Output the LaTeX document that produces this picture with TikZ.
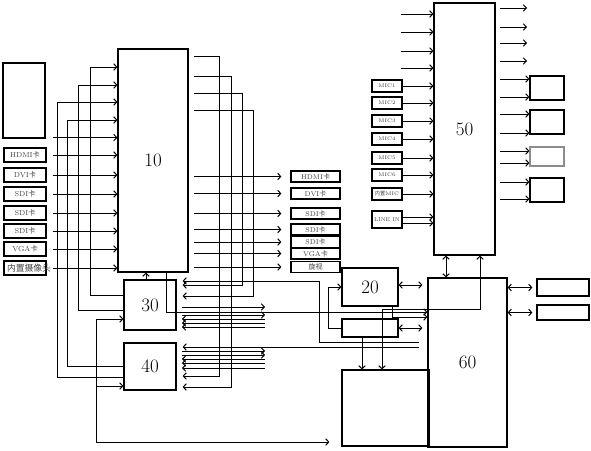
\documentclass[tikz,border=0pt]{standalone}
\usepackage{fontspec}
\newfontfamily\cjk{Noto Sans CJK SC}
\usepackage{tikz}
\usetikzlibrary{arrows.meta}

\begin{document}
\begin{tikzpicture}[x=1pt,y=-1pt,line width=1pt,
    >={Straight Barb[length=3pt,width=6.5pt]},
    blk/.style={draw,line width=1.2pt,inner sep=0pt},
    num/.style={font=\fontsize{19}{19}\selectfont},
    card/.style={blk,minimum width=42pt,minimum height=14pt,
        font=\fontsize{7.2}{7.2}\selectfont,text=black!75},
    ocard/.style={blk,minimum width=49pt,minimum height=11pt,
        font=\fontsize{7}{7}\selectfont,text=black!75},
    mic/.style={blk,minimum width=30pt,minimum height=12pt,
        font=\fontsize{5.2}{5.2}\selectfont,text=black!75},
    spk/.style={blk,minimum width=34pt,minimum height=24pt}]
    \useasboundingbox (0,0) rectangle (591,450);

    % main blocks
    \node[blk,num,minimum width=70pt,minimum height=223pt] (n10) at (153,160.5) {10};
    \node[blk,num,minimum width=52pt,minimum height=50pt] (n30) at (150,305) {30};
    \node[blk,num,minimum width=52pt,minimum height=47pt] (n40) at (150,366.5) {40};
    \node[blk,num,minimum width=56pt,minimum height=38pt] (n20) at (370,287) {20};
    \node[blk,minimum width=56pt,minimum height=18pt] (nS) at (370,328) {};
    \node[blk,minimum width=87pt,minimum height=76pt] (nB) at (385.5,408) {};
    \node[blk,num,minimum width=79pt,minimum height=169pt] (n60) at (467.5,362.5) {60};
    \node[blk,num,minimum width=61pt,minimum height=252pt] (n50) at (464.5,129) {50};

    % sources left of 10
    \node[blk,minimum width=42pt,minimum height=75pt] (cam) at (24,100.5) {};
    \node[card] (hdmiA) at (25,155) {HDMI{\cjk 卡}};
    \node[card] (dviA) at (25,175) {DVI{\cjk 卡}};
    \node[card] (sdiA) at (25,194) {SDI{\cjk 卡}};
    \node[card] (sdiB) at (25,213) {SDI{\cjk 卡}};
    \node[card] (sdiC) at (25,231) {SDI{\cjk 卡}};
    \node[card] (vgaA) at (25,249) {VGA{\cjk 卡}};
    \node[card,font=\fontsize{8.8}{8.8}\selectfont] (camA) at (25,268)
        {\makebox[36pt][l]{\cjk 内置摄像头}};

    \coordinate (camout) at ([xshift=7pt,yshift=1pt]cam.south east);
    \draw[->] (camout) -- (n10.west |- camout);
    \draw[->] ([xshift=6pt]hdmiA.east) -- (n10.west |- hdmiA);
    \draw[->] ([xshift=6pt]dviA.east) -- (n10.west |- dviA);
    \draw[->] ([xshift=6pt]sdiA.east) -- (n10.west |- sdiA);
    \draw[->] ([xshift=6pt]sdiB.east) -- (n10.west |- sdiB);
    \draw[->] ([xshift=6pt]sdiC.east) -- (n10.west |- sdiC);
    \draw[->] ([xshift=6pt]vgaA.east) -- (n10.west |- vgaA);
    \draw[->] ([xshift=6pt]camA.east) -- (n10.west |- camA);

    % loops back from 30 and 40 into 10
    \draw[->] (n30.west |- 0,295) -- (90,295) -- (90,67) -- (n10.west |- 0,67);
    \draw[->] (n30.west |- 0,310) -- (78,310) -- (78,85) -- (n10.west |- 0,85);
    \draw[->] (n40.west |- 0,366) -- (67,366) -- (67,120) -- (n10.west |- 0,120);
    \draw[->] (n40.west |- 0,377) -- (57,377) -- (57,102) -- (n10.west |- 0,102);
    \coordinate (bigin) at ([xshift=-12pt]nB.west |- 0,442);
    \draw[<->] (n30.west |- 0,319) -- (96,319) -- (96,442) -- (bigin);
    \draw[->] (96,386) -- (n40.west |- 0,386);
    \draw[->] (n30.north -| 146,0) -- (n10.south -| 146,0);
    \draw[->] (n10.south -| 166,0) -- (166,312) -- (n60.west |- 0,312);

    % outputs of 10
    \node[ocard] (hdmiB) at (315.5,176.5) {HDMI{\cjk 卡}};
    \node[ocard] (dviB) at (315.5,193.5) {DVI{\cjk 卡}};
    \node[ocard] (sdiD) at (315.5,213.5) {SDI{\cjk 卡}};
    \node[ocard] (sdiE) at (315.5,229.5) {SDI{\cjk 卡}};
    \node[ocard] (sdiF) at (315.5,242) {SDI{\cjk 卡}};
    \node[ocard] (vgaB) at (315.5,253.5) {VGA{\cjk 卡}};
    \node[ocard] (spin) at (315.5,267) {{\cjk 旋视}};
    \draw[->] ([xshift=5pt]n10.east |- hdmiB) -- ([xshift=-9pt]hdmiB.west);
    \draw[->] ([xshift=5pt]n10.east |- dviB) -- ([xshift=-9pt]dviB.west);
    \draw[->] ([xshift=5pt]n10.east |- sdiD) -- ([xshift=-9pt]sdiD.west);
    \draw[->] ([xshift=5pt]n10.east |- sdiE) -- ([xshift=-9pt]sdiE.west);
    \draw[->] ([xshift=5pt]n10.east |- sdiF) -- ([xshift=-9pt]sdiF.west);
    \draw[->] ([xshift=5pt]n10.east |- vgaB) -- ([xshift=-9pt]vgaB.west);
    \draw[->] ([xshift=5pt]n10.east |- spin) -- ([xshift=-9pt]spin.west);

    \draw[->] ([xshift=5pt]n10.east |- 0,56) -- (219,56) -- (219,376) -- ([xshift=6pt]n40.east |- 0,376);
    \draw[->] ([xshift=5pt]n10.east |- 0,76) -- (231,76) -- (231,387) -- ([xshift=6pt]n40.east |- 0,387);
    \draw[->] ([xshift=5pt]n10.east |- 0,93) -- (242,93) -- (242,285) -- ([xshift=6pt]n30.east |- 0,285);
    \draw[->] ([xshift=5pt]n10.east |- 0,110) -- (253,110) -- (253,296) -- ([xshift=6pt]n30.east |- 0,296);

    % lines on the right of 30 and 40
    \draw[->] (419,342) -- (319,342) -- (319,281) -- ([xshift=6pt]n30.east |- 0,281);
    \draw[->] (419,347) -- ([xshift=6pt]n40.east |- 0,347);
    \draw[->] (182,307) -- (265,307);
    \draw[->] (182,315) -- (265,315);
    \draw[<-] (182,319) -- (265,319);
    \draw[<-] (182,323) -- (265,323);
    \draw[<-] (182,327) -- (265,327);
    \draw[->] (182,351) -- (265,351);
    \draw[->] (182,355) -- (265,355);
    \draw[<-] (182,359) -- (265,359);
    \draw[<-] (182,363) -- (265,363);
    \draw[<-] (182,368) -- (265,368);

    % 20, small box, 60
    \draw[->] (nS.west) -- (328,328) -- (328,287) -- (n20.west |- 0,287);
    \draw[<->] (n20.east |- 0,285) -- ([xshift=-5pt]n60.west |- 0,285);
    \draw[<->] (nS.east) -- ([xshift=-5pt]n60.west |- nS.east);
    \draw[->] (nS.south -| 362,0) -- (nB.north -| 362,0);
    \draw[->] (n20.south -| 392,0) -- (392,317) -- (n60.west |- 0,317);
    \draw[<->] (n50.south -| 480,0) -- (480,309) -- (382,309) -- (nB.north -| 382,0);
    \draw[<->] (n50.south -| 446,0) -- (n60.north -| 446,0);

    \node[blk,minimum width=52pt,minimum height=17pt] (r1) at (563,287.5) {};
    \node[blk,minimum width=52pt,minimum height=15pt] (r2) at (563,312.5) {};
    \draw[<->] (n60.east |- r1) -- ([xshift=-4pt]r1.west);
    \draw[<->] (n60.east |- r2) -- ([xshift=-4pt]r2.west);

    % audio inputs of 50
    \draw[->] (401,14) -- (n50.west |- 0,14);
    \draw[->] (401,32) -- (n50.west |- 0,32);
    \draw[->] (401,51) -- (n50.west |- 0,51);
    \draw[->] (401,68) -- (n50.west |- 0,68);
    \node[mic] (m1) at (387,86) {MIC1};
    \node[mic] (m2) at (387,103) {MIC2};
    \node[mic] (m3) at (387,121) {MIC3};
    \node[mic] (m4) at (387,139) {MIC4};
    \node[mic] (m5) at (387,158) {MIC5};
    \node[mic] (m6) at (387,175) {MIC6};
    \node[mic] (m7) at (387,194) {{\cjk 内置}MIC};
    \node[mic,minimum height=17pt,font=\fontsize{5.5}{5.5}\selectfont] (lin) at (387,219.5) {LINE IN};
    \draw[->] (m1.east) -- (n50.west |- m1);
    \draw[->] (m2.east) -- (n50.west |- m2);
    \draw[->] (m3.east) -- (n50.west |- m3);
    \draw[->] (m4.east) -- (n50.west |- m4);
    \draw[->] (m5.east) -- (n50.west |- m5);
    \draw[->] (m6.east) -- (n50.west |- m6);
    \draw[->] (m7.east) -- (n50.west |- m7);
    \draw[->] (lin.east |- 0,217) -- (n50.west |- 0,217);
    \draw[->] (lin.east |- 0,223) -- (n50.west |- 0,223);

    % audio outputs of 50
    \draw[->] ([xshift=4pt]n50.east |- 0,8) -- (527,8);
    \draw[->] ([xshift=4pt]n50.east |- 0,27) -- (527,27);
    \draw[->] ([xshift=4pt]n50.east |- 0,43) -- (527,43);
    \draw[->] ([xshift=4pt]n50.east |- 0,61) -- (527,61);
    \node[spk] (s1) at (547,88) {};
    \node[spk] (s2) at (547,122) {};
    \node[spk,minimum height=19pt,draw=black!45] (s3) at (547,156.5) {};
    \node[spk] (s4) at (547,190) {};
    \draw[->] ([xshift=4pt]n50.east |- 0,79) -- (s1.west |- 0,79);
    \draw[->] ([xshift=4pt]n50.east |- 0,97) -- (s1.west |- 0,97);
    \draw[->] ([xshift=4pt]n50.east |- 0,114) -- (s2.west |- 0,114);
    \draw[->] ([xshift=4pt]n50.east |- 0,133) -- (s2.west |- 0,133);
    \draw[->] ([xshift=4pt]n50.east |- 0,151) -- (s3.west |- 0,151);
    \draw[->] ([xshift=4pt]n50.east |- 0,163) -- (s3.west |- 0,163);
    \draw[->] ([xshift=4pt]n50.east |- 0,182) -- (s4.west |- 0,182);
    \draw[->] ([xshift=4pt]n50.east |- 0,199) -- (s4.west |- 0,199);
\end{tikzpicture}
\end{document}
